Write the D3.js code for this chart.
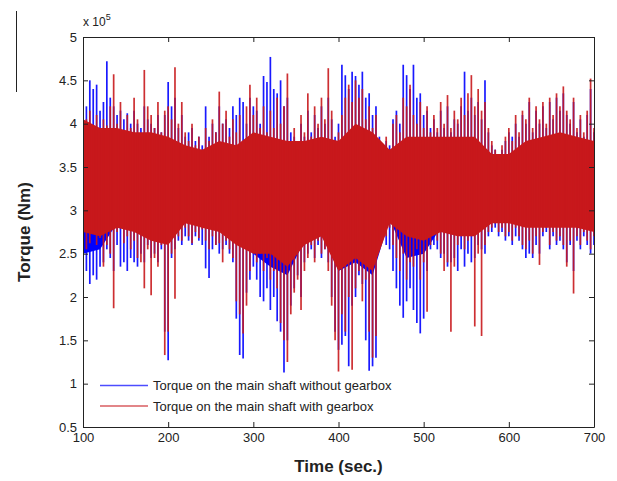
<!DOCTYPE html>
<html>
<head>
<meta charset="utf-8">
<script src="https://cdn.jsdelivr.net/npm/d3@7"></script>
<style>
    body { margin: 0; background: #fff; }
    svg { display: block; }
    text { font-family: "Liberation Sans", Arial, sans-serif; fill: #222; }
</style>
</head>
<body>
<div id="torque-chart"></div>
<script>
// each pair of values = (peak, trough) of the signal in one 4 s window,
// windows start at 100 s and end at 700 s. values in x 10^5 Nm
const startTime = 100;
const windowStep = 4;

const seriesNames = ["Torque on the main shaft without gearbox", "Torque on the main shaft with gearbox"];

const withoutGearbox = [
    4.35, 2.45, 4.20, 2.30, 4.50, 2.15, 4.40, 2.25, 4.45, 2.20,
    4.15, 2.35, 4.25, 2.40, 4.72, 2.55, 4.30, 2.45, 4.20, 2.30,
    4.10, 2.60, 4.15, 2.35, 4.05, 2.40, 4.12, 2.30, 4.00, 2.45,
    4.15, 2.40, 4.00, 2.35, 3.95, 2.50, 4.20, 2.40, 4.05, 2.60,
    4.00, 2.45, 3.95, 2.50, 4.10, 2.40, 3.90, 2.55, 4.10, 1.60,
    4.48, 1.27, 4.20, 2.45, 4.30, 2.55, 3.95, 2.65, 4.10, 2.60,
    3.85, 2.70, 3.90, 2.65, 3.95, 2.60, 3.80, 2.70, 3.85, 2.65,
    3.75, 2.60, 4.20, 2.33, 3.85, 2.22, 4.00, 2.55, 3.90, 2.60,
    4.20, 2.50, 4.00, 2.55, 4.05, 2.60, 3.95, 2.50, 4.20, 2.40,
    4.10, 1.75, 4.30, 1.33, 4.25, 1.29, 4.00, 2.05, 4.30, 2.20,
    4.20, 2.35, 4.15, 2.20, 4.00, 2.00, 4.55, 1.95, 4.48, 2.10,
    4.77, 1.85, 4.40, 2.00, 4.35, 1.72, 4.50, 1.60, 4.20, 1.13,
    4.30, 1.50, 3.90, 1.90, 3.85, 2.10, 3.80, 2.25, 4.00, 2.00,
    3.85, 2.40, 4.15, 2.50, 3.90, 2.55, 4.10, 2.45, 3.95, 2.60,
    4.20, 2.45, 4.00, 2.55, 4.30, 2.40, 4.05, 2.00, 3.85, 1.60,
    4.00, 1.39, 4.68, 1.45, 4.56, 1.55, 4.40, 1.20, 4.60, 1.90,
    4.55, 2.00, 4.45, 2.25, 4.60, 2.15, 4.30, 1.50, 4.35, 1.15,
    4.10, 1.20, 4.20, 1.30, 3.85, 2.60, 3.75, 2.70, 3.80, 2.60,
    3.75, 2.55, 4.05, 2.30, 4.15, 2.10, 4.00, 1.90, 4.68, 1.76,
    4.56, 1.95, 4.40, 2.10, 4.68, 1.85, 4.30, 1.70, 4.35, 1.58,
    4.10, 1.75, 4.15, 2.30, 3.95, 2.55, 4.05, 2.60, 3.90, 2.55,
    4.15, 2.45, 3.95, 2.50, 4.20, 2.35, 3.90, 2.40, 4.05, 2.45,
    4.00, 2.30, 4.20, 2.55, 4.60, 2.35, 4.15, 2.50, 4.30, 2.40,
    4.10, 2.45, 4.25, 2.60, 4.05, 2.55, 4.50, 2.50, 3.90, 2.70,
    3.75, 2.75, 3.70, 2.80, 3.55, 2.70, 3.70, 2.75, 3.80, 2.65,
    3.90, 2.70, 3.85, 2.60, 4.00, 2.70, 3.85, 2.65, 4.10, 2.55,
    4.00, 2.45, 4.25, 2.50, 3.90, 2.45, 4.15, 2.60, 4.00, 2.50,
    4.20, 2.70, 3.95, 2.75, 4.25, 2.55, 4.05, 2.70, 4.30, 2.60,
    4.15, 2.65, 4.35, 2.55, 4.10, 2.40, 4.00, 2.60, 4.25, 2.30,
    3.90, 2.65, 4.05, 2.55, 3.85, 2.70, 4.10, 2.60, 4.40, 2.50,
    3.90, 2.60
];

const withGearbox = [
    4.40, 2.70, 4.05, 2.55, 4.15, 2.62, 3.95, 2.75, 4.10, 2.60,
    3.90, 2.68, 4.05, 2.35, 3.98, 2.60, 4.20, 2.50, 4.57, 1.87,
    4.00, 2.75, 4.25, 2.80, 3.90, 2.62, 4.10, 2.70, 3.95, 2.55,
    4.30, 2.65, 4.05, 2.45, 3.85, 2.40, 4.62, 2.10, 4.20, 2.55,
    4.10, 2.02, 3.95, 2.45, 4.25, 2.35, 3.90, 2.60, 4.15, 1.33,
    4.20, 1.60, 4.05, 2.50, 4.65, 1.98, 4.00, 2.70, 4.25, 2.65,
    3.90, 2.80, 3.80, 2.70, 4.00, 2.62, 3.75, 2.75, 3.85, 2.68,
    3.70, 2.78, 3.95, 2.65, 3.80, 2.55, 4.05, 2.70, 3.90, 2.60,
    4.37, 2.62, 4.00, 2.40, 4.15, 2.65, 3.85, 2.55, 4.05, 2.45,
    3.90, 1.95, 4.10, 1.80, 3.70, 1.58, 4.20, 1.90, 4.45, 2.30,
    4.10, 2.55, 4.30, 2.40, 3.95, 2.50, 4.20, 2.30, 3.90, 2.45,
    4.15, 2.20, 3.95, 2.30, 4.30, 2.10, 4.00, 1.70, 4.20, 1.50,
    4.58, 1.25, 3.80, 1.80, 3.95, 2.05, 3.70, 2.20, 4.10, 1.85,
    3.90, 2.30, 4.35, 2.45, 3.85, 2.60, 4.20, 2.40, 4.00, 2.65,
    4.30, 2.50, 4.05, 2.55, 4.64, 2.30, 4.15, 1.90, 3.80, 1.50,
    3.90, 1.14, 4.10, 1.80, 4.30, 1.60, 4.45, 2.00, 4.25, 1.16,
    4.50, 2.10, 4.30, 2.30, 4.40, 1.95, 4.05, 2.20, 4.20, 1.60,
    3.95, 1.30, 4.10, 1.55, 3.80, 2.65, 3.70, 2.75, 3.85, 2.70,
    3.70, 2.80, 4.00, 2.60, 4.10, 2.45, 3.90, 2.30, 4.30, 2.50,
    4.20, 2.20, 4.45, 2.40, 4.10, 2.35, 4.00, 2.55, 4.25, 2.20,
    3.95, 2.40, 4.20, 1.83, 3.90, 2.60, 4.10, 2.75, 3.95, 2.65,
    4.25, 2.50, 4.00, 2.30, 4.33, 2.40, 3.95, 1.60, 4.15, 2.35,
    4.05, 2.60, 4.30, 2.70, 4.10, 2.55, 4.35, 2.65, 4.56, 2.70,
    4.20, 1.66, 4.40, 2.50, 4.15, 1.55, 4.25, 2.60, 3.95, 2.75,
    3.80, 2.80, 3.70, 2.85, 3.60, 2.75, 3.75, 2.80, 3.85, 2.70,
    3.95, 2.75, 3.80, 2.65, 4.10, 2.80, 3.90, 2.70, 4.15, 2.60,
    4.05, 2.55, 4.30, 2.65, 3.95, 2.50, 4.20, 2.70, 4.05, 2.37,
    4.25, 2.75, 4.00, 2.80, 4.30, 2.60, 4.10, 2.75, 4.35, 2.65,
    4.20, 2.70, 4.43, 2.60, 4.15, 2.35, 4.05, 2.65, 4.30, 2.04,
    3.95, 2.70, 4.10, 2.60, 3.90, 2.75, 4.15, 2.65, 4.52, 2.55,
    3.95, 2.70
];

// edges of the solid (dense) band, every 20 s from 100 to 700
const bandStep = 20;
const withoutGearboxBandTop = [3.95, 3.85, 3.85, 3.80, 3.80, 3.75, 3.65, 3.60, 3.70, 3.65, 3.80, 3.75, 3.70, 3.70, 3.75, 3.70,
    3.90, 3.80, 3.60, 3.75, 3.75, 3.75, 3.75, 3.75, 3.55, 3.55, 3.70, 3.75, 3.80, 3.75, 3.70];
const withoutGearboxBandBottom = [2.50, 2.55, 2.85, 2.80, 2.70, 2.65, 2.90, 2.85, 2.80, 2.65, 2.50, 2.35, 2.25, 2.65, 2.75, 2.30,
    2.40, 2.25, 2.90, 2.45, 2.50, 2.80, 2.75, 2.75, 2.90, 2.90, 2.85, 2.85, 2.85, 2.85, 2.80];
const withGearboxBandTop = [4.05, 3.95, 3.95, 3.90, 3.90, 3.85, 3.75, 3.70, 3.80, 3.75, 3.90, 3.85, 3.80, 3.80, 3.85, 3.80,
    4.00, 3.90, 3.70, 3.85, 3.85, 3.85, 3.85, 3.85, 3.65, 3.65, 3.80, 3.85, 3.90, 3.85, 3.80];
const withGearboxBandBottom = [2.75, 2.70, 2.80, 2.75, 2.65, 2.60, 2.85, 2.80, 2.75, 2.60, 2.50, 2.50, 2.35, 2.60, 2.70, 2.30,
    2.45, 2.30, 2.85, 2.70, 2.65, 2.75, 2.70, 2.70, 2.85, 2.85, 2.80, 2.80, 2.80, 2.80, 2.75];

const xTicks = [100, 200, 300, 400, 500, 600, 700];
const yTicks = [0.5, 1, 1.5, 2, 2.5, 3, 3.5, 4, 4.5, 5];
const seriesColors = ["#0000ff", "#c8181c"];

render();

function toWindows(values) {
    var out = [];
    for (var k = 0; k * 2 + 1 < values.length; k++) {
        out.push({ t: startTime + k * windowStep, hi: values[2 * k], lo: values[2 * k + 1] });
    }
    return out;
}

function toBand(top, bottom) {
    return top.map((v, i) => ({ t: startTime + i * bandStep, hi: v, lo: bottom[i] }));
}

function render() {
    const width = 617, height = 481;
    const margin = { top: 37, right: 23, bottom: 54, left: 83 };
    const innerW = width - margin.left - margin.right;
    const innerH = height - margin.top - margin.bottom;

    const svg = d3.select('#torque-chart').append('svg')
        .attr('width', width)
        .attr('height', height);

    // stray border line on the left of the scanned figure
    svg.append('line')
        .attr('x1', 16.5).attr('x2', 16.5)
        .attr('y1', 11).attr('y2', 92)
        .attr('stroke', '#222').attr('stroke-width', 1);

    const g = svg.append('g')
        .attr('transform', `translate(${margin.left},${margin.top})`);

    const x = d3.scaleLinear().domain([100, 700]).range([0, innerW]);
    const y = d3.scaleLinear().domain([0.5, 5]).range([innerH, 0]);

    g.append('clipPath').attr('id', 'plot-clip')
        .append('rect').attr('width', innerW).attr('height', innerH);

    const area = d3.area()
        .x(d => x(d.t))
        .y0(d => y(d.lo))
        .y1(d => y(d.hi));

    const plot = g.append('g').attr('clip-path', 'url(#plot-clip)');

    const series = [
        { values: withoutGearbox, band: toBand(withoutGearboxBandTop, withoutGearboxBandBottom) },
        { values: withGearbox, band: toBand(withGearboxBandTop, withGearboxBandBottom) }
    ];

    // blue first, red drawn over it
    series.forEach(function (s, k) {
        plot.append('path')
            .datum(s.band)
            .attr('fill', seriesColors[k])
            .attr('d', area);

        plot.append('g').selectAll('line')
            .data(toWindows(s.values))
            .join('line')
            .attr('x1', d => x(d.t)).attr('x2', d => x(d.t))
            .attr('y1', d => y(d.lo)).attr('y2', d => y(d.hi))
            .attr('stroke', seriesColors[k])
            .attr('stroke-opacity', 0.9)
            .attr('stroke-width', 1.7);
    });

    // axes, ticks inside like matlab
    const fmt = d => String(d);
    g.append('g')
        .attr('transform', `translate(0,${innerH})`)
        .call(d3.axisBottom(x).tickValues(xTicks).tickSizeInner(-5).tickSizeOuter(0).tickPadding(6).tickFormat(fmt))
        .call(styleAxis);
    g.append('g')
        .call(d3.axisTop(x).tickValues(xTicks).tickSizeInner(-5).tickSizeOuter(0).tickFormat(''))
        .call(styleAxis);
    g.append('g')
        .call(d3.axisLeft(y).tickValues(yTicks).tickSizeInner(-5).tickSizeOuter(0).tickPadding(6).tickFormat(fmt))
        .call(styleAxis);
    g.append('g')
        .attr('transform', `translate(${innerW},0)`)
        .call(d3.axisRight(y).tickValues(yTicks).tickSizeInner(-5).tickSizeOuter(0).tickFormat(''))
        .call(styleAxis);

    function styleAxis(ax) {
        ax.select('.domain').attr('stroke', '#222');
        ax.selectAll('.tick line').attr('stroke', '#222');
        ax.selectAll('.tick text')
            .style('font-family', '"Liberation Sans", Arial, sans-serif')
            .style('font-size', '13px')
            .attr('fill', '#222');
    }

    // exponent label
    const expo = g.append('text')
        .attr('x', 0).attr('y', -11)
        .style('font-size', '12px');
    expo.append('tspan').text('x 10');
    expo.append('tspan').attr('dy', -6).style('font-size', '9px').text('5');

    // legend
    const legend = g.append('g').attr('transform', 'translate(17,348)');
    seriesNames.forEach(function (name, k) {
        const row = legend.append('g').attr('transform', `translate(0,${k * 20.5})`);
        row.append('line')
            .attr('x1', 0).attr('x2', 48)
            .attr('y1', 0.5).attr('y2', 0.5)
            .attr('stroke', seriesColors[k])
            .attr('stroke-opacity', 0.7)
            .attr('stroke-width', 1.3);
        row.append('text')
            .attr('x', 53).attr('y', 5)
            .style('font-size', '13px')
            .text(name);
    });

    // axis titles
    svg.append('text')
        .attr('x', margin.left + innerW / 2)
        .attr('y', 472)
        .attr('text-anchor', 'middle')
        .style('font-size', '17px')
        .style('font-weight', 'bold')
        .attr('fill', '#111')
        .text('Time (sec.)');

    svg.append('text')
        .attr('transform', `translate(30,${margin.top + innerH / 2}) rotate(-90)`)
        .attr('text-anchor', 'middle')
        .style('font-size', '17px')
        .style('font-weight', 'bold')
        .attr('fill', '#111')
        .text('Torque (Nm)');
}
</script>
</body>
</html>
